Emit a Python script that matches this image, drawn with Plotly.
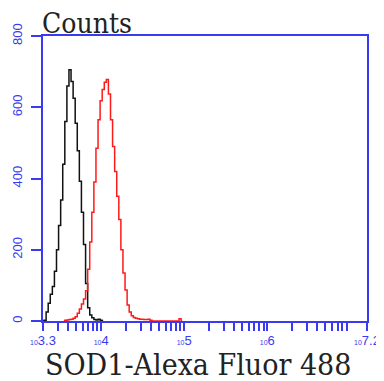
import math
import plotly.graph_objects as go

# Black (control) histogram: log10(fluorescence) bin, counts
black_logx = [3.300, 3.325, 3.350, 3.375, 3.400, 3.425, 3.450, 3.475, 3.500, 3.525, 3.550, 3.575,
              3.600, 3.625, 3.650, 3.675, 3.700, 3.725, 3.750, 3.775, 3.800, 3.825, 3.850,
              3.875, 3.900, 3.925, 3.950, 3.975, 4.000, 4.025]
black_counts = [0, 2, 25, 50, 75, 97, 140, 200, 268, 340, 440, 560,
                660, 705, 672, 625, 555, 478, 392, 305, 215, 105, 37,
                17, 9, 4, 3, 5, 2, 0]

# Red (SOD1) histogram
red_logx = [3.550, 3.575, 3.600, 3.625, 3.650, 3.675, 3.700, 3.725, 3.750, 3.775, 3.800, 3.825,
            3.850, 3.875, 3.900, 3.925, 3.950, 3.975, 4.000, 4.025, 4.050, 4.075, 4.100,
            4.125, 4.150, 4.175, 4.200, 4.225, 4.250, 4.275, 4.300, 4.325, 4.350, 4.375,
            4.400, 4.425, 4.450, 4.475, 4.500, 4.525, 4.550, 4.575, 4.600, 4.625,
            4.925, 4.950, 4.975]
red_counts = [0, 2, 3, 4, 5, 8, 12, 22, 34, 48, 62, 85,
              145, 222, 305, 390, 485, 565, 618, 650, 670, 678, 637,
              565, 490, 420, 350, 285, 200, 135, 87, 45, 25, 15,
              10, 8, 6, 5, 5, 4, 4, 5, 2, 0,
              0, 6, 0]

y_ticks = [0, 200, 400, 600, 800]
x_tick_exps = ["3.3", "4", "5", "6", "7.2"]
x_title = "SOD1-Alexa Fluor 488"
y_title = "Counts"

blue = "#3a3af0"
title_font = "DejaVu Serif Condensed, DejaVu Serif"

fig = go.Figure()
fig.add_trace(go.Scatter(x=[10 ** v for v in black_logx], y=black_counts, mode="lines",
                         line=dict(color="#111111", width=1.5, shape="hvh")))
fig.add_trace(go.Scatter(x=[10 ** v for v in red_logx], y=red_counts, mode="lines",
                         line=dict(color="#ff1a1a", width=1.5, shape="hvh")))

major_vals = [10 ** float(e) for e in x_tick_exps]
major_text = ["<span style='font-size:7px'>10</span>" + e for e in x_tick_exps]
minor_vals = [m * 10 ** d for d in range(3, 8) for m in range(2, 10)
              if 3.3 < math.log10(m * 10 ** d) < 7.2]

# page body has an 8px default margin, so the figure is sized to fit the window
fig.update_layout(
    width=376, height=373,
    margin=dict(l=35, r=17, t=28, b=60),
    plot_bgcolor="white", paper_bgcolor="white",
    showlegend=False,
    xaxis=dict(
        type="log", range=[3.3, 7.2], automargin=False,
        tickvals=major_vals, ticktext=major_text, ticklabelstandoff=-2,
        ticks="outside", ticklen=8, tickwidth=1.5, tickcolor=blue,
        tickfont=dict(family="Liberation Sans", size=13, color=blue),
        showline=True, linecolor=blue, linewidth=2, mirror=True,
        showgrid=False, zeroline=False,
        minor=dict(tickvals=minor_vals, ticks="outside", ticklen=8, tickwidth=1.5, tickcolor=blue, showgrid=False),
    ),
    yaxis=dict(
        range=[0, 800], tickvals=y_ticks, ticktext=[str(v) for v in y_ticks],
        tickangle=-90, automargin=False, ticklabelstandoff=4,
        ticks="outside", ticklen=10, tickwidth=1.5, tickcolor=blue,
        tickfont=dict(family="Liberation Sans", size=13, color=blue),
        showline=True, linecolor=blue, linewidth=2, mirror=True,
        showgrid=False, zeroline=False,
    ),
    annotations=[
        dict(text=y_title, xref="paper", yref="paper", x=0.0, y=1.0,
             xanchor="left", yanchor="top", yshift=31, xshift=-3, showarrow=False,
             font=dict(family=title_font, size=28, color="#222222")),
        dict(text=x_title, xref="paper", yref="paper", x=0.477, y=0.0,
             xanchor="center", yanchor="bottom", yshift=-63, showarrow=False,
             font=dict(family=title_font, size=30, color="#222222")),
    ],
)

fig.write_html("out.html")
